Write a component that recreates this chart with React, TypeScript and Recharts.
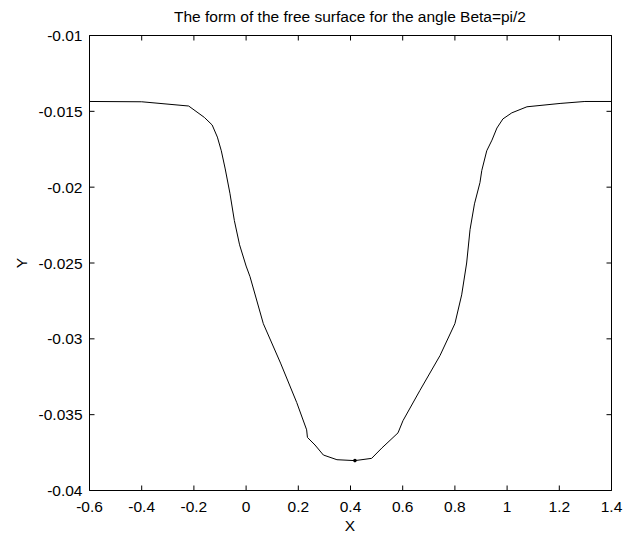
import React from 'react';
import { ComposedChart, Line, Scatter, XAxis, YAxis } from 'recharts';

const xValues = [
  -0.6, -0.4, -0.22, -0.16, -0.13, -0.11, -0.095, -0.08, -0.062, -0.045, -0.025, 0.0, 0.015,
  0.066, 0.132, 0.194, 0.232, 0.235, 0.264, 0.296, 0.348, 0.417, 0.481, 0.52, 0.582, 0.601,
  0.666, 0.743, 0.8, 0.826, 0.845, 0.858, 0.875, 0.896, 0.903, 0.922, 0.942, 0.961, 0.984, 1.018,
  1.076, 1.203, 1.298, 1.4,
];
const yValues = [
  -0.01435, -0.01437, -0.01465, -0.0154, -0.0159, -0.0167, -0.0176, -0.0188, -0.0204, -0.0222,
  -0.0238, -0.0252, -0.0259, -0.029, -0.0316, -0.0342, -0.036, -0.0365, -0.037, -0.03766,
  -0.03797, -0.03803, -0.03788, -0.0372, -0.0362, -0.0354, -0.0334, -0.0311, -0.029, -0.0271,
  -0.0250, -0.0228, -0.0211, -0.0197, -0.0189, -0.0176, -0.0169, -0.0161, -0.0155, -0.0151,
  -0.0147, -0.01448, -0.01435, -0.01435,
];
const markerX = [0.417];
const markerY = [-0.03803];

const xTicks = [-0.6, -0.4, -0.2, 0, 0.2, 0.4, 0.6, 0.8, 1, 1.2, 1.4];
const xTickLabels = ['-0.6', '-0.4', '-0.2', '0', '0.2', '0.4', '0.6', '0.8', '1', '1.2', '1.4'];
const yTicks = [-0.04, -0.035, -0.03, -0.025, -0.02, -0.015, -0.01];
const yTickLabels = ['-0.04', '-0.035', '-0.03', '-0.025', '-0.02', '-0.015', '-0.01'];

const titleText = 'The form of the free surface for the angle Beta=pi/2';
const xLabel = 'X';
const yLabel = 'Y';

const lineData = xValues.map((x, i) => ({ x, y: yValues[i] }));
const markerData = markerX.map((x, i) => ({ x, y: markerY[i] }));

const FONT = '"Liberation Sans", Arial, Helvetica, sans-serif';
const FS = 15.5;
const TL = 5;

const labelFor = (vals: number[], labels: string[], v: number) => {
  const i = vals.findIndex((t) => Math.abs(t - v) < 1e-9);
  return i >= 0 ? labels[i] : String(v);
};

const BottomTick = (props: any) => {
  const { x, y, payload } = props;
  return (
    <g>
      <line x1={x} y1={y} x2={x} y2={y - TL} stroke="#000" strokeWidth={1} />
      <text x={x} y={y + 21} textAnchor="middle" fontSize={FS} fontFamily={FONT} fill="#000">
        {labelFor(xTicks, xTickLabels, payload.value)}
      </text>
    </g>
  );
};
const TopTick = (props: any) => {
  const { x, y } = props;
  return <line x1={x} y1={y} x2={x} y2={y + TL} stroke="#000" strokeWidth={1} />;
};
const LeftTick = (props: any) => {
  const { x, y, payload } = props;
  return (
    <g>
      <line x1={x} y1={y} x2={x + TL} y2={y} stroke="#000" strokeWidth={1} />
      <text x={x - 7} y={y + 5.6} textAnchor="end" fontSize={FS} fontFamily={FONT} fill="#000">
        {labelFor(yTicks, yTickLabels, payload.value)}
      </text>
    </g>
  );
};
const RightTick = (props: any) => {
  const { x, y } = props;
  return <line x1={x} y1={y} x2={x - TL} y2={y} stroke="#000" strokeWidth={1} />;
};

const Dot = (props: any) => {
  const { cx, cy } = props;
  return <circle cx={cx} cy={cy} r={1.8} fill="#000" />;
};

export default function App() {
  return (
    <div style={{ position: 'absolute', left: 0, top: 0, width: 634, height: 537, background: '#fff' }}>
      <ComposedChart
        width={634}
        height={537}
        data={lineData}
        margin={{ top: 30.5, right: 17.5, bottom: 6.5, left: 29.5 }}
      >
        <XAxis
          xAxisId="b"
          dataKey="x"
          type="number"
          orientation="bottom"
          domain={[-0.6, 1.4]}
          ticks={xTicks}
          interval={0}
          allowDataOverflow
          height={40}
          tickSize={0}
          tickMargin={0}
          tickLine={false}
          axisLine={{ stroke: '#000', strokeWidth: 1 }}
          tick={<BottomTick />}
        />
        <XAxis
          xAxisId="t"
          dataKey="x"
          type="number"
          orientation="top"
          domain={[-0.6, 1.4]}
          ticks={xTicks}
          interval={0}
          allowDataOverflow
          height={5}
          tickSize={0}
          tickMargin={0}
          tickLine={false}
          axisLine={{ stroke: '#000', strokeWidth: 1 }}
          tick={<TopTick />}
        />
        <YAxis
          yAxisId="l"
          type="number"
          orientation="left"
          domain={[-0.04, -0.01]}
          ticks={yTicks}
          interval={0}
          allowDataOverflow
          width={60}
          tickSize={0}
          tickMargin={0}
          tickLine={false}
          axisLine={{ stroke: '#000', strokeWidth: 1 }}
          tick={<LeftTick />}
        />
        <YAxis
          yAxisId="r"
          type="number"
          orientation="right"
          domain={[-0.04, -0.01]}
          ticks={yTicks}
          interval={0}
          allowDataOverflow
          width={5}
          tickSize={0}
          tickMargin={0}
          tickLine={false}
          axisLine={{ stroke: '#000', strokeWidth: 1 }}
          tick={<RightTick />}
        />
        <Line
          xAxisId="b"
          yAxisId="l"
          type="linear"
          dataKey="y"
          stroke="#000"
          strokeWidth={1}
          dot={false}
          activeDot={false}
          isAnimationActive={false}
        />
        <Scatter
          xAxisId="b"
          yAxisId="l"
          data={markerData}
          dataKey="y"
          shape={<Dot />}
          isAnimationActive={false}
        />
      </ComposedChart>
      <svg
        width={634}
        height={537}
        style={{ position: 'absolute', left: 0, top: 0, pointerEvents: 'none' }}
      >
        <text x={350} y={22} textAnchor="middle" fontSize={FS} fontFamily={FONT} fill="#000">
          {titleText}
        </text>
        <text x={350} y={531} textAnchor="middle" fontSize={FS} fontFamily={FONT} fill="#000">
          {xLabel}
        </text>
        <text
          x={27}
          y={263}
          textAnchor="middle"
          fontSize={FS}
          fontFamily={FONT}
          fill="#000"
          transform="rotate(-90 27 263)"
        >
          {yLabel}
        </text>
      </svg>
    </div>
  );
}
